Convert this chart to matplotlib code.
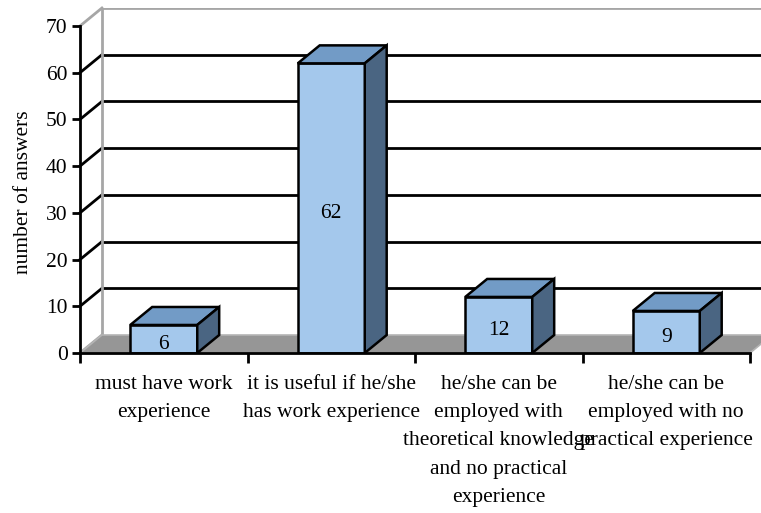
import matplotlib.pyplot as plt
from matplotlib.patches import Polygon

categories = ["must have work\nexperience",
              "it is useful if he/she\nhas work experience",
              "he/she can be\nemployed with\ntheoretical knowledge\nand no practical\nexperience",
              "he/she can be\nemployed with no\npractical experience"]
answers = [6, 62, 12, 9]
y_ticks = [0, 10, 20, 30, 40, 50, 60, 70]

plt.rcParams['font.family'] = ['Liberation Serif', 'DejaVu Serif']
plt.rcParams['font.size'] = 15.5

# depth of the fake 3d effect, in data units
dx = 0.131
dy = 3.85
half = 0.2
ymax = 70

fig = plt.figure(figsize=(7.61, 5.13), dpi=100)
ax = fig.add_axes([80 / 761, 160 / 513, 1 - 80 / 761, 345 / 513])
ax.set_xlim(-0.5, 3.5 + 11 / 167.5)
ax.set_ylim(0, ymax + dy)

n = len(answers)
x0 = -0.5
x1 = n - 0.5

# floor
ax.add_patch(Polygon([(x0, 0), (x1, 0), (x1 + dx, dy), (x0 + dx, dy)],
                     closed=True, facecolor="#969696", edgecolor="#b4b4b4",
                     lw=1.2, zorder=1, clip_on=False))

# back wall and side wall lines
for v in y_ticks:
    col = "black"
    if v == 0 or v == ymax:
        col = "#a6a6a6"
    if v != 0:
        ax.plot([x0 + dx, x1 + dx], [v + dy, v + dy], color=col, lw=2, zorder=0.5)
    ax.plot([x0, x0 + dx], [v, v + dy], color=col, lw=2, zorder=0.6, clip_on=False)
ax.plot([x0 + dx, x0 + dx], [dy, ymax + dy], color="#a6a6a6", lw=2, zorder=0.6)

# bars
for i, v in enumerate(answers):
    l = i - half
    r = i + half
    ax.add_patch(Polygon([(l, 0), (r, 0), (r, v), (l, v)], closed=True,
                         facecolor="#a4c8ec", edgecolor="black", lw=1.8, zorder=3))
    ax.add_patch(Polygon([(l, v), (r, v), (r + dx, v + dy), (l + dx, v + dy)], closed=True,
                         facecolor="#729bc6", edgecolor="black", lw=1.8, zorder=3))
    ax.add_patch(Polygon([(r, 0), (r + dx, dy), (r + dx, v + dy), (r, v)], closed=True,
                         facecolor="#4a6582", edgecolor="black", lw=1.8, zorder=3))
    ax.text(i, v / 2 - 1.2, str(v), ha="center", va="center", zorder=4)

# front axes
for s in ["top", "right"]:
    ax.spines[s].set_visible(False)
ax.spines["left"].set_bounds(0, ymax)
ax.spines["bottom"].set_bounds(x0, x1)
ax.spines["left"].set_linewidth(2)
ax.spines["bottom"].set_linewidth(2)
ax.spines["left"].set_zorder(5)
ax.spines["bottom"].set_zorder(5)

ax.set_yticks(y_ticks)
ax.tick_params(axis="y", direction="out", length=6, width=2, pad=3)
ax.set_xticks(range(n))
ax.set_xticklabels(categories, linespacing=1.65)
ax.set_xticks([x0 + k for k in range(n + 1)], minor=True)
ax.tick_params(axis="x", which="major", length=0, pad=16)
ax.tick_params(axis="x", which="minor", direction="out", length=7, width=2)

ax.set_ylabel("number of answers", labelpad=9)
ax.yaxis.label.set_y(0.467)

fig.savefig("out.png", dpi=100)
